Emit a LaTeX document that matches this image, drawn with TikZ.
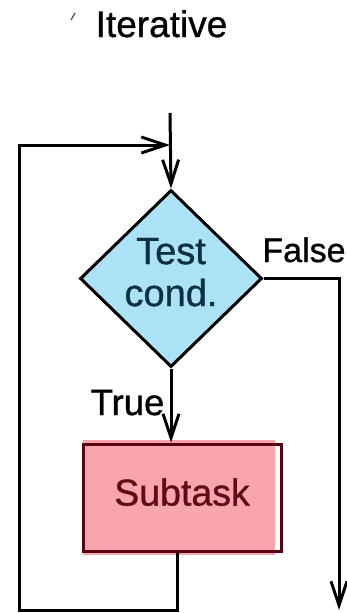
\documentclass[tikz,border=0pt]{standalone}
\usepackage{fontspec}
\setmainfont{Liberation Sans}
\usetikzlibrary{arrows.meta,shapes.geometric}
\definecolor{condfill}{RGB}{172,226,245}
\definecolor{condtext}{RGB}{12,48,66}
\definecolor{taskfill}{RGB}{246,166,172}
\definecolor{taskline}{RGB}{90,6,18}
\definecolor{tasktext}{RGB}{100,10,22}
\newcommand{\fsz}[1]{\fontsize{#1}{42}\selectfont\addfontfeature{FakeBold=0.9}}
\begin{document}
\begin{tikzpicture}[x=1pt,y=1pt,
  flow/.style={line width=3pt, black},
  tip/.style={-{Straight Barb[length=24pt,width=16pt]}},
  lbl/.style={inner sep=0pt, anchor=base},
]
\useasboundingbox (0,0) rectangle (346,-613);

% title
\node[lbl, font=\fsz{37}] (title) at (161.5,-37) {Iterative};
\draw[line width=1.2pt, black!70] (71,-20) -- (75,-13);

% decision
\node[diamond, draw, line width=3pt, fill=condfill, inner sep=0pt,
      minimum width=182pt, minimum height=177pt, text=condtext,
      font=\fsz{38}, align=center, text depth=13pt]
      (cond) at (171,-278.5) {Test\\cond.};

% subtask box (fill slightly offset from its outline)
\fill[taskfill] (83,-440) rectangle (275,-555);
\node[draw=taskline, line width=3pt, inner sep=0pt,
      minimum width=198pt, minimum height=107pt, text=tasktext,
      font=\fsz{37.5}, text depth=11pt]
      (task) at (182,-497.5) {Subtask};

% labels
\node[lbl, font=\fsz{34}] (falselbl) at (304,-262) {False};
\node[lbl, font=\fsz{36.5}] (truelbl) at (127.5,-415) {True};

% connectors
\coordinate (entry) at (170,-113);
\coordinate (exit) at (339,-610);
\coordinate (lb) at (177,-610);
\coordinate (lt) at (19,-145);

\draw[flow,tip] (entry) -- (cond.north);
\draw[flow,tip] (cond.east) -| (exit);
\draw[flow,tip] (cond.south) -- (cond.south |- task.north);
\draw[flow,tip] (task.south -| lb) -- (lb) -| (lt) -- (lt -| entry);
\end{tikzpicture}
\end{document}
